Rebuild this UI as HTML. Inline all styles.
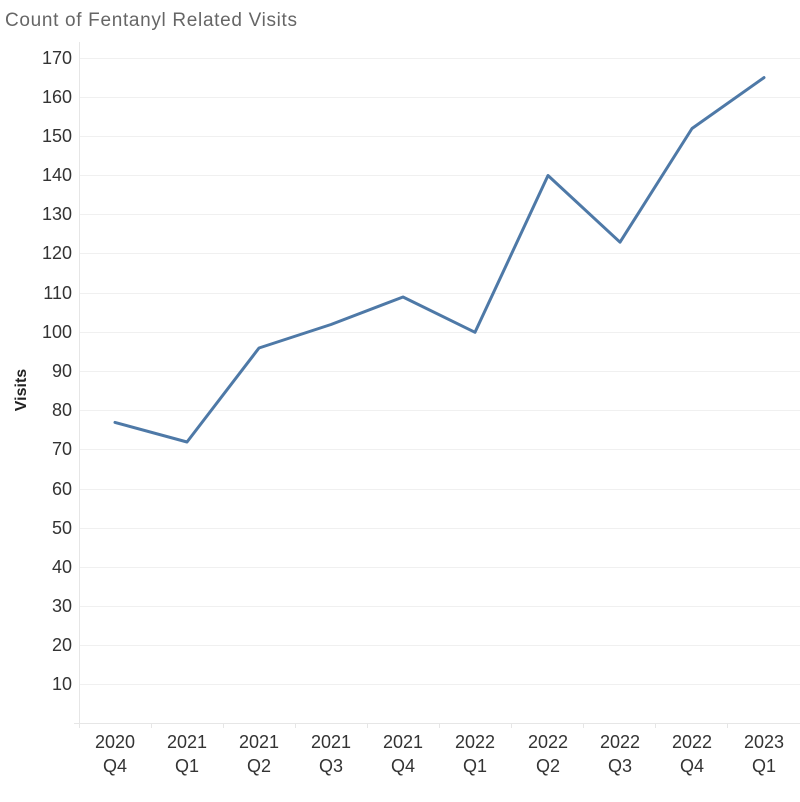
<!DOCTYPE html>
<html><head><style>body{margin:0;background:#fff}svg{display:block}</style></head>
<body>
<svg width="800" height="802" xmlns="http://www.w3.org/2000/svg" font-family="Liberation Sans, sans-serif">
<text x="5" y="26" font-size="19" fill="#666" textLength="292" lengthAdjust="spacing">Count of Fentanyl Related Visits</text>
<g stroke="#f0f0f0" stroke-width="1">
<line x1="79" x2="800" y1="58.5" y2="58.5"/><line x1="79" x2="800" y1="97.5" y2="97.5"/>
<line x1="79" x2="800" y1="136.5" y2="136.5"/><line x1="79" x2="800" y1="175.5" y2="175.5"/>
<line x1="79" x2="800" y1="214.5" y2="214.5"/><line x1="79" x2="800" y1="253.5" y2="253.5"/>
<line x1="79" x2="800" y1="293.5" y2="293.5"/><line x1="79" x2="800" y1="332.5" y2="332.5"/>
<line x1="79" x2="800" y1="371.5" y2="371.5"/><line x1="79" x2="800" y1="410.5" y2="410.5"/>
<line x1="79" x2="800" y1="449.5" y2="449.5"/><line x1="79" x2="800" y1="489.5" y2="489.5"/>
<line x1="79" x2="800" y1="528.5" y2="528.5"/><line x1="79" x2="800" y1="567.5" y2="567.5"/>
<line x1="79" x2="800" y1="606.5" y2="606.5"/><line x1="79" x2="800" y1="645.5" y2="645.5"/>
<line x1="79" x2="800" y1="684.5" y2="684.5"/>
</g>
<g stroke="#e6e6e6" stroke-width="1">
<line x1="79.5" x2="79.5" y1="42" y2="728"/>
<line x1="74" x2="800" y1="723.5" y2="723.5"/>
<line x1="151.5" x2="151.5" y1="723" y2="728"/><line x1="223.5" x2="223.5" y1="723" y2="728"/>
<line x1="295.5" x2="295.5" y1="723" y2="728"/><line x1="367.5" x2="367.5" y1="723" y2="728"/>
<line x1="439.5" x2="439.5" y1="723" y2="728"/><line x1="511.5" x2="511.5" y1="723" y2="728"/>
<line x1="583.5" x2="583.5" y1="723" y2="728"/><line x1="655.5" x2="655.5" y1="723" y2="728"/>
<line x1="727.5" x2="727.5" y1="723" y2="728"/>
</g>
<g font-size="18" fill="#333" text-anchor="end">
<text x="72" y="64">170</text><text x="72" y="103">160</text><text x="72" y="142">150</text>
<text x="72" y="181">140</text><text x="72" y="220">130</text><text x="72" y="259">120</text>
<text x="72" y="299">110</text><text x="72" y="338">100</text><text x="72" y="377">90</text>
<text x="72" y="416">80</text><text x="72" y="455">70</text><text x="72" y="495">60</text>
<text x="72" y="534">50</text><text x="72" y="573">40</text><text x="72" y="612">30</text>
<text x="72" y="651">20</text><text x="72" y="690">10</text>
</g>
<text transform="translate(26,390) rotate(-90)" font-size="16" font-weight="bold" fill="#222" text-anchor="middle">Visits</text>
<g font-size="18" fill="#333" text-anchor="middle">
<text x="115" y="748">2020</text><text x="115" y="772">Q4</text>
<text x="187" y="748">2021</text><text x="187" y="772">Q1</text>
<text x="259" y="748">2021</text><text x="259" y="772">Q2</text>
<text x="331" y="748">2021</text><text x="331" y="772">Q3</text>
<text x="403" y="748">2021</text><text x="403" y="772">Q4</text>
<text x="475" y="748">2022</text><text x="475" y="772">Q1</text>
<text x="548" y="748">2022</text><text x="548" y="772">Q2</text>
<text x="620" y="748">2022</text><text x="620" y="772">Q3</text>
<text x="692" y="748">2022</text><text x="692" y="772">Q4</text>
<text x="764" y="748">2023</text><text x="764" y="772">Q1</text>
</g>
<polyline fill="none" stroke="#4e79a7" stroke-width="3" stroke-linejoin="round" stroke-linecap="round"
points="115,422.4 187,442 259,348 331,324.5 403,297 475,332.3 548,175.5 620,242.2 692,128.5 764,77.6"/>
</svg>
</body></html>
